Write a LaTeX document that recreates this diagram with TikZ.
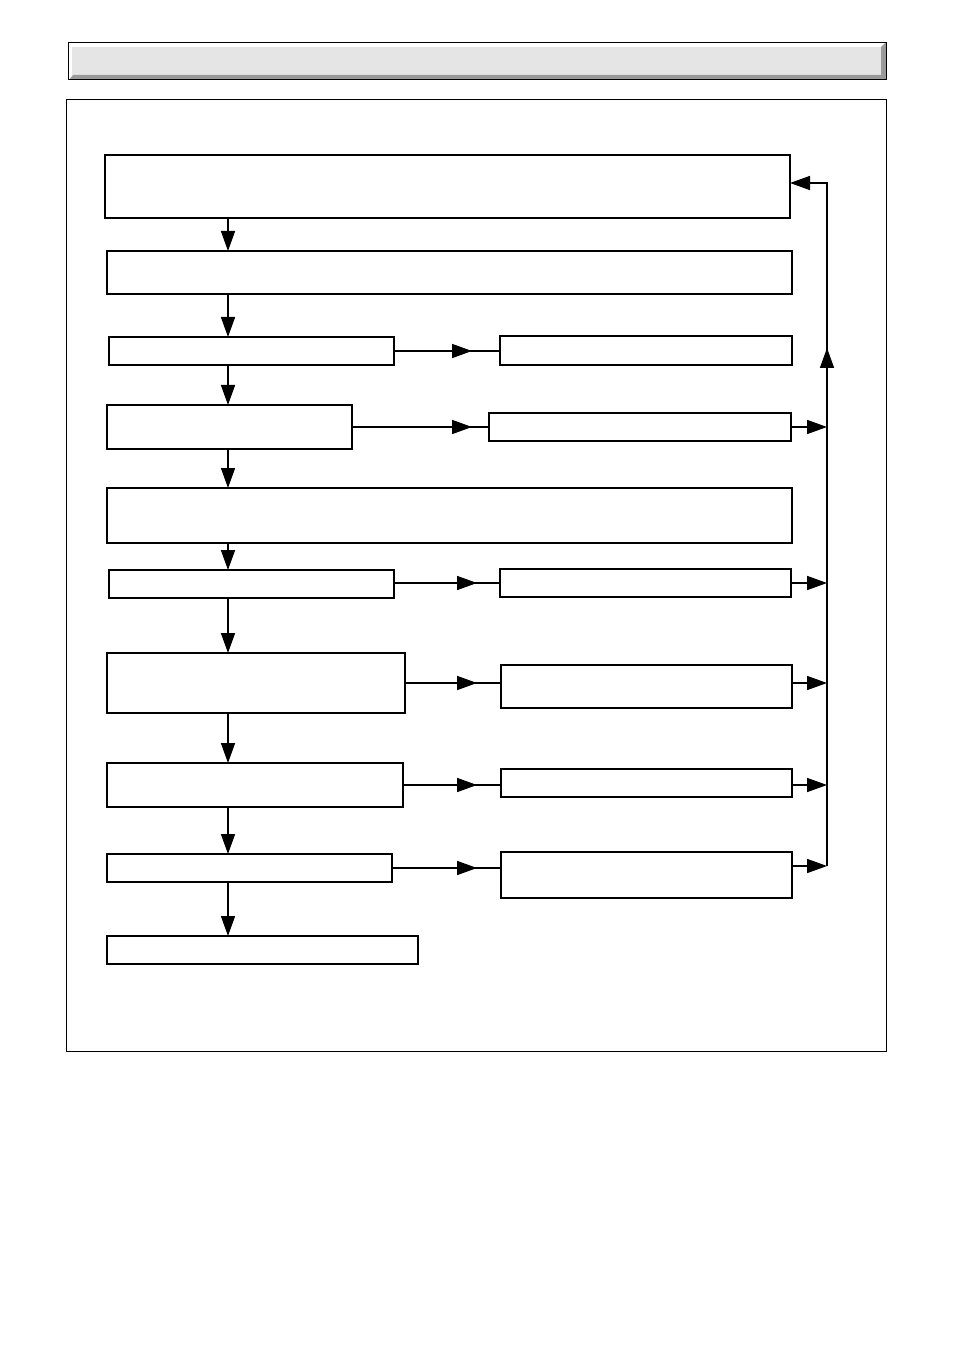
\documentclass[tikz,border=0pt]{standalone}
\usepackage{tikz}
\usetikzlibrary{arrows.meta}

\begin{document}
\begin{tikzpicture}[x=0.75pt,y=0.75pt,yscale=-1,xscale=1,
  blk/.style 2 args={draw, line width=1.2pt, inner sep=0pt, outer sep=0pt,
    minimum width=#1*0.75pt, minimum height=#2*0.75pt},
  flow/.style={line width=1.2pt},
  arr/.style={flow, -{Triangle[length=15pt,width=10.5pt]}}]
\useasboundingbox (0,0) rectangle (954,1351);

%Shape: Title bar
\fill[gray!20] (72,47) rectangle (881,75);
\fill[gray!80] (886,42) -- (886,80) -- (69,80) -- (73,75) -- (881,75) -- (881,47) -- cycle;
\draw[line width=0.75pt] (68,42.5) rectangle (886,80);
%Shape: Frame
\draw[line width=0.75pt] (66.5,99.5) rectangle (886,1051);

%Shape: Left column
\node[blk={685}{63}] (l1) at (447.5,186.5) {};
\node[blk={685}{43}] (l2) at (449.5,272.5) {};
\node[blk={285}{28}] (l3) at (251.5,351) {};
\node[blk={245}{44}] (l4) at (229.5,427) {};
\node[blk={685}{55}] (l5) at (449.5,515.5) {};
\node[blk={285}{28}] (l6) at (251.5,584) {};
\node[blk={298}{60}] (l7) at (256,683) {};
\node[blk={296}{44}] (l8) at (255,785) {};
\node[blk={285}{28}] (l9) at (249.5,868) {};
\node[blk={311}{28}] (l10) at (262.5,950) {};
%Shape: Right column
\node[blk={292}{29}] (r3) at (646,350.5) {};
\node[blk={302}{28}] (r4) at (640,427) {};
\node[blk={291}{28}] (r6) at (645.5,583) {};
\node[blk={291}{43}] (r7) at (646.5,686.5) {};
\node[blk={291}{28}] (r8) at (646.5,783) {};
\node[blk={291}{46}] (r9) at (646.5,875) {};

\coordinate (spine) at (228,0);
\coordinate (tipa) at (472,0);
\coordinate (tipb) at (477,0);
\coordinate (bus) at (827,0);
\coordinate (busbot) at (827,866);
\coordinate (bustop) at (827,183);
\coordinate (busup) at (827,348);

%Straight Lines: main flow
\draw[arr] (l1.south -| spine) -- (l2.north -| spine);
\draw[arr] (l2.south -| spine) -- (l3.north -| spine);
\draw[arr] (l3.south -| spine) -- (l4.north -| spine);
\draw[arr] (l4.south -| spine) -- (l5.north -| spine);
\draw[arr] (l5.south -| spine) -- (l6.north -| spine);
\draw[arr] (l6.south -| spine) -- (l7.north -| spine);
\draw[arr] (l7.south -| spine) -- (l8.north -| spine);
\draw[arr] (l8.south -| spine) -- (l9.north -| spine);
\draw[arr] (l9.south -| spine) -- (l10.north -| spine);

%Straight Lines: branches
\draw[flow] (l3.east) -- (r3.west |- l3.east);
\draw[arr] (l3.east) -- (l3.east -| tipa);
\draw[flow] (l4.east) -- (r4.west |- l4.east);
\draw[arr] (l4.east) -- (l4.east -| tipa);
\draw[flow] (l6.east |- r6.west) -- (r6.west);
\draw[arr] (l6.east |- r6.west) -- (r6.west -| tipb);
\draw[flow] (l7.east) -- (r7.west |- l7.east);
\draw[arr] (l7.east) -- (l7.east -| tipb);
\draw[flow] (l8.east) -- (r8.west |- l8.east);
\draw[arr] (l8.east) -- (l8.east -| tipb);
\draw[flow] (l9.east) -- (r9.west |- l9.east);
\draw[arr] (l9.east) -- (l9.east -| tipb);

%Straight Lines: return
\draw[arr] (r4.east) -- (r4.east -| bus);
\draw[arr] (r6.east) -- (r6.east -| bus);
\draw[arr] (r7.east |- l7.east) -- (l7.east -| bus);
\draw[arr] (r8.east |- l8.east) -- (l8.east -| bus);
\draw[arr] (r9.east |- busbot) -- (busbot);
\draw[arr] (busbot) -- (bustop) -- (l1.east |- bustop);
\draw[arr] (r4.east -| bus) -- (busup);

\end{tikzpicture}
\end{document}
